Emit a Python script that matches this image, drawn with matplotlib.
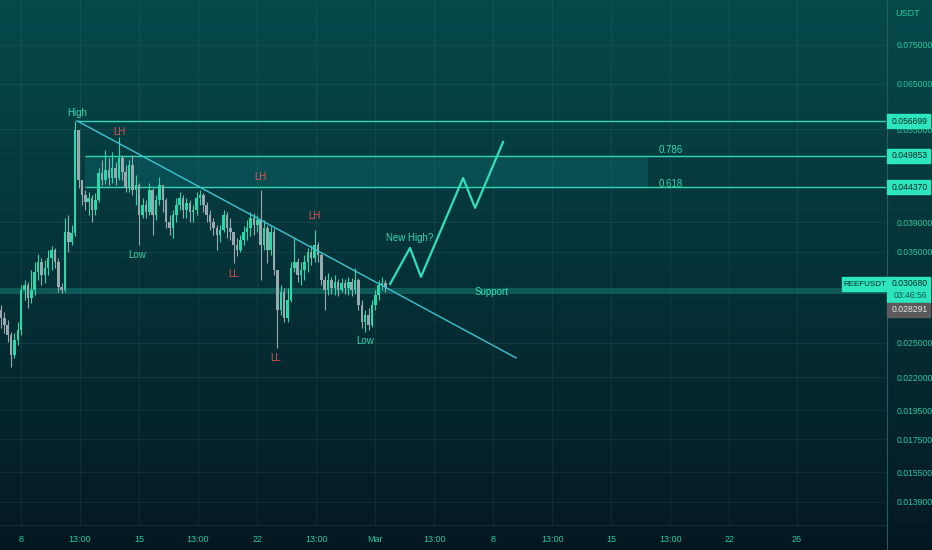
import numpy as np
import matplotlib.pyplot as plt
from matplotlib.ticker import NullLocator
from matplotlib.patches import Rectangle

plt.rcParams['font.family'] = ['Liberation Sans', 'DejaVu Sans']

# ---------- data (REEFUSDT, days counted from Feb 8) ----------
first_open = 0.02822
closes = [0.02740, 0.02670, 0.02573, 0.02390, 0.02526, 0.02621, 0.03038, 0.03094, 0.02949, 0.03038,
          0.03246, 0.03368, 0.03211, 0.03294, 0.03418, 0.03521, 0.03368, 0.03071, 0.03038, 0.03762,
          0.03626, 0.03748, 0.05481, 0.04558, 0.04313, 0.04203, 0.04266, 0.04081, 0.04234, 0.04677,
          0.04558, 0.04729, 0.04592, 0.04764, 0.04592, 0.04943, 0.04694, 0.04426, 0.04817, 0.04393,
          0.04475, 0.04006, 0.04157, 0.04051, 0.04393, 0.04006, 0.04234, 0.04475, 0.04234, 0.03904,
          0.03819, 0.04006, 0.04157, 0.04266, 0.04081, 0.04187, 0.04051, 0.04081, 0.04266, 0.04313,
          0.04157, 0.04006, 0.03904, 0.03819, 0.03721, 0.03790, 0.04006, 0.03819, 0.03762, 0.03586,
          0.03521, 0.03653, 0.03762, 0.03819, 0.03962, 0.03861, 0.03933, 0.03586, 0.03819, 0.03521,
          0.03762, 0.03270, 0.02822, 0.03016, 0.02740, 0.02928, 0.03294, 0.03368, 0.03211, 0.03270,
          0.03368, 0.03495, 0.03418, 0.03586, 0.03456, 0.03152, 0.03038, 0.03152, 0.03060, 0.03129,
          0.03038, 0.03117, 0.03060, 0.03129, 0.03038, 0.03152, 0.02874, 0.02699, 0.02770, 0.02670,
          0.02874, 0.02982, 0.03094, 0.03117, 0.03068]
highs = [0.02874, 0.02801, 0.02719, 0.02602, 0.02592, 0.02699, 0.03094, 0.03152, 0.03129, 0.03270,
         0.03368, 0.03469, 0.03418, 0.03393, 0.03521, 0.03573, 0.03547, 0.03418, 0.03117, 0.03962,
         0.04006, 0.03861, 0.056699, 0.05381, 0.04558, 0.04393, 0.04361, 0.04313, 0.04345, 0.04764,
         0.04907, 0.05091, 0.04943, 0.05054, 0.04871, 0.05342, 0.04998, 0.04817, 0.04907, 0.04998,
         0.04643, 0.04508, 0.04266, 0.04234, 0.04508, 0.04426, 0.04313, 0.04609, 0.04426, 0.04266,
         0.04006, 0.04081, 0.04266, 0.04361, 0.04313, 0.04266, 0.04234, 0.04157, 0.04361, 0.04393,
         0.04345, 0.04203, 0.04081, 0.03962, 0.03861, 0.03861, 0.04081, 0.04051, 0.03962, 0.03762,
         0.03680, 0.03721, 0.03847, 0.03933, 0.04051, 0.04036, 0.04006, 0.04393, 0.03933, 0.03861,
         0.03847, 0.03819, 0.03211, 0.03094, 0.03060, 0.03060, 0.03368, 0.03680, 0.03418, 0.03368,
         0.03456, 0.03547, 0.03586, 0.03790, 0.03626, 0.03482, 0.03199, 0.03234, 0.03188, 0.03211,
         0.03164, 0.03176, 0.03164, 0.03188, 0.03176, 0.03294, 0.03176, 0.02928, 0.02822, 0.02842,
         0.02928, 0.03038, 0.03152, 0.03188, 0.03152]
lows = [0.02641, 0.02592, 0.02508, 0.02286, 0.02364, 0.02480, 0.02573, 0.02928, 0.02842, 0.02896,
        0.02982, 0.03152, 0.03094, 0.03117, 0.03211, 0.03270, 0.03294, 0.03016, 0.03005, 0.03016,
        0.03495, 0.03586, 0.03707, 0.04426, 0.04157, 0.04081, 0.04006, 0.03904, 0.04006, 0.04203,
        0.04475, 0.04491, 0.04475, 0.04508, 0.04475, 0.04558, 0.04558, 0.04361, 0.04361, 0.04313,
        0.04157, 0.03586, 0.03962, 0.03962, 0.04006, 0.03721, 0.03933, 0.04157, 0.04051, 0.03819,
        0.03721, 0.03680, 0.03904, 0.04081, 0.03962, 0.03962, 0.03904, 0.03904, 0.04006, 0.04157,
        0.04051, 0.03904, 0.03790, 0.03721, 0.03521, 0.03626, 0.03762, 0.03680, 0.03653, 0.03356,
        0.03443, 0.03495, 0.03586, 0.03653, 0.03707, 0.03721, 0.03762, 0.03152, 0.03521, 0.03356,
        0.03456, 0.03211, 0.02453, 0.02770, 0.02699, 0.02699, 0.02907, 0.03246, 0.03129, 0.03094,
        0.03152, 0.03246, 0.03331, 0.03368, 0.03368, 0.03094, 0.02822, 0.02982, 0.02993, 0.02982,
        0.02971, 0.03016, 0.02993, 0.02982, 0.02971, 0.02993, 0.02822, 0.02641, 0.02602, 0.02621,
        0.02651, 0.02822, 0.02928, 0.03038, 0.03016]
first_day = -1.19
step_days = 0.2

high_level = 0.056699
fib_786 = 0.049853
fib_618 = 0.044370
last_price = 0.030680
prev_close = 0.028291
support_lo, support_hi = 0.02995, 0.03065

trend_days = [3.32, 29.36]
trend_prices = [0.056699, 0.02364]
proj_days = [21.89, 23.07, 23.72, 26.22, 26.93, 28.59]
proj_prices = [0.03105, 0.03547, 0.03188, 0.04591, 0.04111, 0.05243]

ytick_vals = [0.075, 0.065, 0.055, 0.039, 0.035, 0.025, 0.022, 0.0195, 0.0175, 0.0155, 0.0139]
xtick_days = [0, 3.5, 7, 10.5, 14, 17.5, 21, 24.5, 28, 31.5, 35, 38.5, 42, 46]
xtick_labels = ['8', '13:00', '15', '13:00', '22', '13:00', 'Mar', '13:00', '8', '13:00',
                '15', '13:00', '22', '26']

# ---------- colours ----------
UP = '#2ad9a9'
DOWN = '#9aa9ae'
TEAL_TXT = '#33d8ae'
AXIS_TXT = '#27c9a0'
RED_TXT = '#e0534f'
LEVEL = '#35d6b4'
TAG = '#2ee6bd'

W, H = 932, 550
fig = plt.figure(figsize=(W / 100, H / 100), dpi=100)

# background gradient
bg = fig.add_axes([0, 0, 1, 1], zorder=0)
stops = np.array([0.0, 0.45, 0.95, 1.0])
cols = np.array([[5, 74, 76], [5, 52, 58], [4, 27, 37], [3, 22, 32]]) / 255
t = np.linspace(0, 1, H)
grad = np.stack([np.interp(t, stops, cols[:, k]) for k in range(3)], axis=1)
bg.imshow(grad[:, None, :].repeat(W, axis=1), aspect='auto', extent=[0, 1, 0, 1])
bg.axis('off')

ax = fig.add_axes([0, 25 / H, 886 / W, 525 / H], zorder=1)
ax.set_facecolor('none')
ax.set_yscale('log')
x0, x1 = -1.246, 51.30
ax.set_xlim(x0, x1)
ax.set_ylim(0.01276, 0.08854)

# grid
ax.yaxis.set_minor_locator(NullLocator())
ax.set_yticks(ytick_vals)
ax.set_yticklabels(['%.6f' % v for v in ytick_vals])
ax.set_xticks(xtick_days)
ax.set_xticklabels(xtick_labels)
ax.grid(True, color='#ffffff', alpha=0.06, lw=0.8)
ax.yaxis.tick_right()
ax.tick_params(axis='y', length=0, pad=8, labelsize=6.2, labelcolor=AXIS_TXT)
ax.tick_params(axis='x', length=0, pad=7, labelsize=6.5, labelcolor=AXIS_TXT)
for s in ['top', 'left', 'right']:
    ax.spines[s].set_visible(False)
ax.spines['bottom'].set_color('#ffffff')
ax.spines['bottom'].set_alpha(0.08)

# support band and fib zone
ax.fill_between([x0, x1], support_lo, support_hi, color='#1fa393', alpha=0.35, lw=0, zorder=2)
ax.fill_between([3.80, 37.19], fib_618, fib_786, color='#0f7378', alpha=0.35, lw=0, zorder=2)
ax.hlines(high_level, 3.32, x1, color=LEVEL, lw=1, zorder=3)
ax.hlines([fib_786, fib_618], 3.80, x1, color=LEVEL, lw=1, zorder=3)

# candles
opens = [first_open] + closes[:-1]
for i, (o, c, hi, lo) in enumerate(zip(opens, closes, highs, lows)):
    d = first_day + step_days * i
    col = UP if c >= o else DOWN
    ax.vlines(d, min(lo, o, c), max(hi, o, c), color=col, lw=0.8, zorder=4)
    b, tp = min(o, c), max(o, c)
    ax.bar(d, max(tp - b, 0.00005), bottom=b, width=0.15, color=col, lw=0, zorder=5)

# trend line and projected path
ax.plot(trend_days, trend_prices, color='#3cc6cf', lw=1, zorder=6)
ax.plot(proj_days, proj_prices, color='#2fe0b8', lw=1.6, zorder=6)

# annotations (pixel positions -> axes fraction)
def pt(xp, yp):
    return xp / 886, 1 - yp / 525

notes = [('High', 77, 113, TEAL_TXT), ('LH', 119, 132, RED_TXT), ('Low', 137, 255, TEAL_TXT),
         ('LL', 234, 274, RED_TXT), ('LH', 260, 177, RED_TXT), ('LH', 314, 216, RED_TXT),
         ('LL', 276, 358, RED_TXT), ('Low', 365, 341, TEAL_TXT), ('New High?', 410, 238, TEAL_TXT),
         ('Support', 492, 292, TEAL_TXT)]
for txt, xp, yp, c in notes:
    ax.text(*pt(xp, yp), txt, transform=ax.transAxes, color=c, fontsize=7,
            ha='center', va='center', zorder=7)
ax.text(*pt(659, 150), '0.786', transform=ax.transAxes, color=TEAL_TXT, fontsize=7,
        ha='left', va='center', zorder=7)
ax.text(*pt(659, 184), '0.618', transform=ax.transAxes, color=TEAL_TXT, fontsize=7,
        ha='left', va='center', zorder=7)

# right price scale extras
fig.add_artist(plt.Line2D([887 / W, 887 / W], [0, 1], transform=fig.transFigure,
                          color='#2a5a60', lw=0.8))
fig.text(908 / W, 1 - 13 / H, 'USDT', color=AXIS_TXT, fontsize=6.5, ha='center', va='center')

def tag(yp, label, fc=TAG, tc='#062a2a'):
    fig.add_artist(Rectangle((887 / W, 1 - (yp + 7) / H), 43 / W, 14 / H,
                             transform=fig.transFigure, color=fc, zorder=8))
    fig.text(910 / W, 1 - yp / H, label, color=tc, fontsize=6.2, ha='center', va='center', zorder=9)

tag(121, '%.6f' % high_level)
tag(156, '%.6f' % fib_786)
tag(187, '%.6f' % fib_618)
fig.add_artist(Rectangle((887 / W, 1 - 303 / H), 43 / W, 26 / H,
                         transform=fig.transFigure, color=TAG, zorder=8))
fig.text(910 / W, 1 - 284 / H, '%.6f' % last_price, color='#062a2a', fontsize=6.2,
         ha='center', va='center', zorder=9)
fig.text(910 / W, 1 - 296 / H, '03:46:56', color='#0d5a4e', fontsize=6.2,
         ha='center', va='center', zorder=9)
fig.add_artist(Rectangle((842 / W, 1 - 291 / H), 44 / W, 14 / H,
                         transform=fig.transFigure, color=TAG, zorder=8))
fig.text(864.5 / W, 1 - 284 / H, 'REEFUSDT', color='#062a2a', fontsize=5.8,
         ha='center', va='center', zorder=9)
tag(310, '%.6f' % prev_close, fc='#5b5b5b', tc='#e8e8e8')

fig.savefig('out.png', dpi=100)
